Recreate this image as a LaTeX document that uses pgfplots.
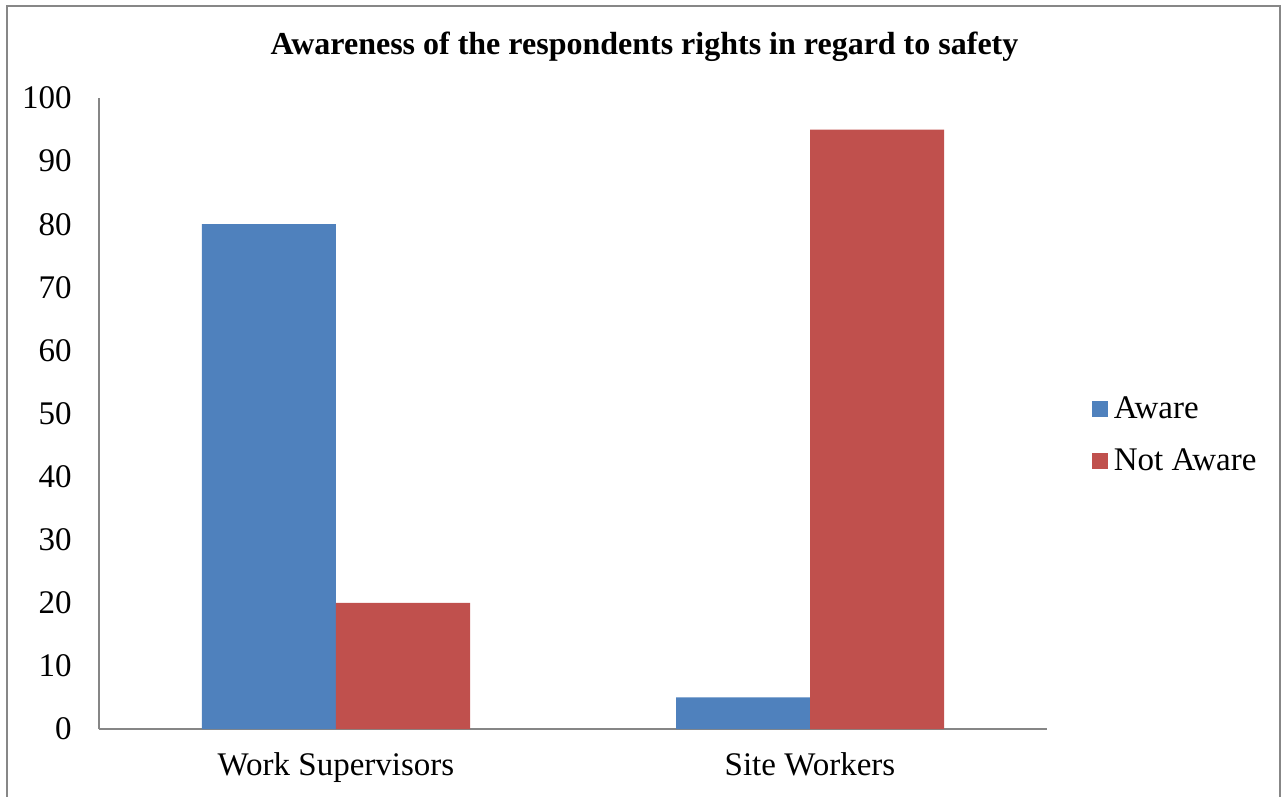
\documentclass[border=0pt]{standalone}
\usepackage{fontspec}
\setmainfont{Liberation Serif}
\usepackage{pgfplots}
\pgfplotsset{compat=1.18}
\definecolor{awareblue}{HTML}{4F81BD}
\definecolor{notred}{HTML}{C0504D}
\definecolor{framegray}{HTML}{878787}
\definecolor{axisgray}{HTML}{868686}

\begin{document}
\begin{tikzpicture}
\useasboundingbox (0pt,0pt) rectangle (641pt,-398.5pt);
% chart frame
\draw[framegray, line width=1pt] (3.5pt,-400pt) -- (3.5pt,-3pt) -- (640pt,-3pt) -- (640pt,-400pt);
% title
\node[font=\fontsize{16}{19}\selectfont\bfseries, anchor=base] at (322.25pt,-27.5pt)
  {Awareness of the respondents rights in regard to safety};
\begin{axis}[
  at={(49.5pt,-364.5pt)}, anchor=south west,
  scale only axis, width=474pt, height=315.5pt,
  ymin=0, ymax=100, ytick={0,10,...,100},
  xmin=-0.5, xmax=1.5, xtick={0,1},
  xticklabels={Work Supervisors, Site Workers},
  ybar=0pt, bar width=67pt,
  axis x line*=bottom, axis y line*=left,
  axis line style={axisgray, line width=1pt},
  major tick length=0pt,
  /pgf/number format/assume math mode=true,
  tick label style={font=\fontsize{16.5}{19}\selectfont, inner sep=0pt},
  yticklabel style={anchor=east, xshift=-13.5pt},
  xticklabel style={anchor=north, yshift=-11.5pt},
  legend style={at={(1.0405,0.4656)}, anchor=west, draw=none, fill=none,
    font=\fontsize{16.5}{19}\selectfont, row sep=11.5pt, column sep=2pt,
    nodes={inner sep=1pt}},
  legend cell align=left,
  legend image code/.code={\fill[#1] (0pt,-4pt) rectangle (8pt,4pt);},
]
\addplot[fill=awareblue, draw=none] coordinates {(0,80) (1,5)};
\addplot[fill=notred, draw=none] coordinates {(0,20) (1,95)};
\legend{Aware, Not Aware}
\end{axis}
\end{tikzpicture}
\end{document}
